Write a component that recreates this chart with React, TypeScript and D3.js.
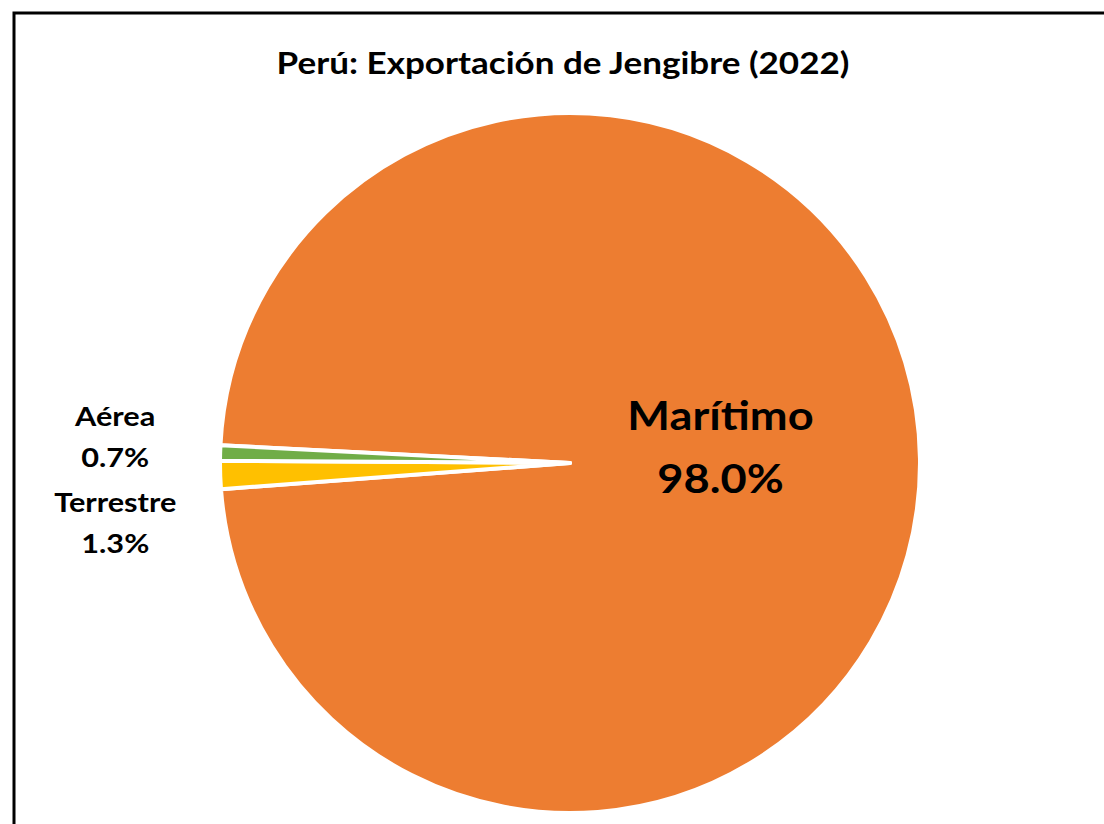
import React from "react";
import * as d3 from "d3";

const title = "Perú: Exportación de Jengibre (2022)";
const categories = ["Marítimo", "Terrestre", "Aérea"];
const shares = [98.0, 1.3, 0.7];
const colors = ["#ED7D31", "#FFC000", "#70AD47"];

const W = 1104;
const H = 824;
const cx = 570;
const cy = 463;
const r = 350;
const font = "Lato, 'Open Sans', sans-serif";

export default function App() {
  const start = (272.9 * Math.PI) / 180;
  const pie = d3
    .pie<number>()
    .sort(null)
    .startAngle(start)
    .endAngle(start + 2 * Math.PI)
    .value((d) => d);
  const arcs = pie(shares);
  const arc = d3.arc<d3.PieArcDatum<number>>().innerRadius(0).outerRadius(r);
  const inArc = d3.arc<d3.PieArcDatum<number>>().innerRadius(r * 0.43).outerRadius(r * 0.43);
  const outArc = d3.arc<d3.PieArcDatum<number>>().innerRadius(r * 1.3).outerRadius(r * 1.3);

  // extra vertical nudges for the outside labels (as Excel placed them)
  const nudge = [-14, 45, -13];

  return (
    <svg width={W} height={H} style={{ position: "absolute", left: 0, top: 0 }}>
      <rect x={0} y={0} width={W} height={H} fill="#fff" />
      <rect x={14} y={13} width={W + 20} height={H + 20} fill="none" stroke="#000" strokeWidth={3} />
      <text transform="translate(563,74) scale(1.13,1)" textAnchor="middle" fontFamily={font} fontWeight={700} fontSize={31}>
        {title}
      </text>
      <g transform={`translate(${cx},${cy})`}>
        {arcs.map((a, i) => (
          <path key={i} d={arc(a) || ""} fill={colors[i]} stroke="#fff" strokeWidth={4} strokeLinejoin="round" />
        ))}
        {arcs.map((a, i) => {
          const big = i === 0;
          const [x, y] = big ? inArc.centroid(a) : outArc.centroid(a);
          const fs = big ? 40 : 26;
          const sx = big ? 1.13 : 1.18;
          const gap = big ? 63 : 41;
          const yy = y + nudge[i];
          return (
            <g key={"l" + i} transform={`translate(${x},${yy}) scale(${sx},1)`}>
              <text textAnchor="middle" fontFamily={font} fontWeight={700} fontSize={fs} fill="#000">
                <tspan x={0} y={-gap / 2 + fs * 0.36}>{categories[i]}</tspan>
                <tspan x={0} y={gap / 2 + fs * 0.36}>{shares[i].toFixed(1) + "%"}</tspan>
              </text>
            </g>
          );
        })}
      </g>
    </svg>
  );
}
